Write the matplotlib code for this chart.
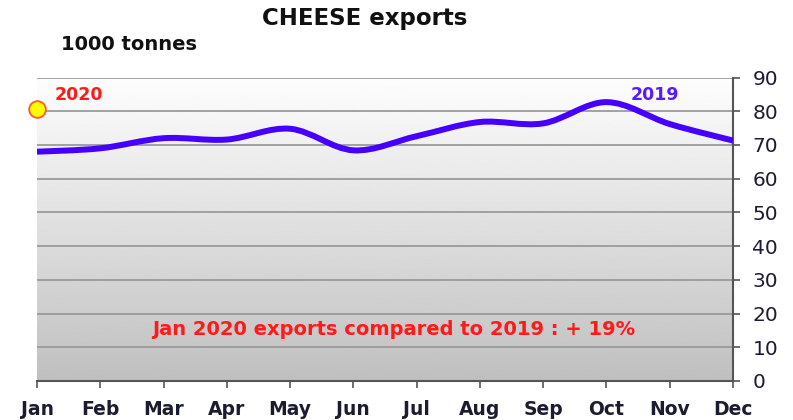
import numpy as np
import matplotlib
matplotlib.use("Agg")
from matplotlib import pyplot as plt
from matplotlib.path import Path
from matplotlib.patches import PathPatch

months = ["Jan", "Feb", "Mar", "Apr", "May", "Jun", "Jul", "Aug", "Sep", "Oct", "Nov", "Dec"]
exports_2019 = [68, 69, 72, 71.6, 74.8, 68.4, 72.6, 76.8, 76.4, 82.7, 76.2, 71.3]
exports_2020 = [80.8]
yticks = [0, 10, 20, 30, 40, 50, 60, 70, 80, 90]

plt.rcParams['font.family'] = ['DejaVu Sans']
fig = plt.figure(figsize=(7.93, 4.2), dpi=100)
ax = fig.add_axes([37 / 793, 39 / 420, 696 / 793, 303.5 / 420])

x = np.arange(len(months))
ax.set_xlim(0, 11)
ax.set_ylim(0, 90)

# gradient background, white at top to grey at bottom
grad = np.linspace(0.75, 0.995, 256).reshape(-1, 1)
ax.imshow(grad, extent=[0, 11, 0, 90], origin="lower", aspect="auto",
          cmap="gray", vmin=0, vmax=1, zorder=0)

for v in yticks[1:]:
    ax.axhline(v, color="#9a9a9a", lw=1.3, zorder=1)

# smoothed line (Excel style), bezier through the points
y = np.array(exports_2019, dtype=float)
verts = [(x[0], y[0])]
codes = [Path.MOVETO]
t = 1 / 6
for i in range(len(x) - 1):
    p0 = (x[i - 1], y[i - 1]) if i > 0 else (x[i], y[i])
    p1 = (x[i], y[i])
    p2 = (x[i + 1], y[i + 1])
    p3 = (x[i + 2], y[i + 2]) if i + 2 < len(x) else p2
    c1 = (p1[0] + (p2[0] - p0[0]) * t, p1[1] + (p2[1] - p0[1]) * t)
    c2 = (p2[0] - (p3[0] - p1[0]) * t, p2[1] - (p3[1] - p1[1]) * t)
    verts += [c1, c2, p2]
    codes += [Path.CURVE4] * 3
ax.add_patch(PathPatch(Path(verts, codes), fill=False, edgecolor="#4600ff",
                       lw=4.3, capstyle="butt", zorder=3))

ax.plot([0], exports_2020, "o", ms=12, mfc="#ffff00", mec="#ff5a2a", mew=1.3,
        clip_on=False, zorder=4)

ax.text(0.28, 84.8, "2020", color="#ff1a1a", fontsize=12.5, fontweight="bold", va="center")
ax.text(9.77, 84.8, "2019", color="#5a1aff", fontsize=12.5, fontweight="bold", va="center", ha="center")
ax.text(5.63, 15.2, "Jan 2020 exports compared to 2019 : + 19%", color="#ff1a1a",
        fontsize=14, fontweight="bold", ha="center", va="center")

ax.yaxis.tick_right()
ax.set_yticks(yticks)
ax.set_yticklabels([str(v) for v in yticks], fontsize=14.5, color="#1c1c30")
ax.set_xticks(x)
ax.set_xticklabels(months, fontsize=13.5, fontweight="bold", color="#1c1c30")
ax.tick_params(axis="y", direction="out", length=5, width=1.2, color="#555555", pad=9)
ax.tick_params(axis="x", direction="out", length=5, width=1.2, color="#555555", pad=9)

for s in ["top", "left"]:
    ax.spines[s].set_visible(False)
for s in ["right", "bottom"]:
    ax.spines[s].set_color("#555555")
    ax.spines[s].set_linewidth(1.5)

fig.text(365 / 793, 1 - 19 / 420, "CHEESE exports", fontsize=16.5, fontweight="bold",
         ha="center", va="center", color="#111111")
fig.text(61 / 793, 1 - 45 / 420, "1000 tonnes", fontsize=14, fontweight="bold",
         ha="left", va="center", color="#111111")

fig.savefig("out.png", dpi=100)
